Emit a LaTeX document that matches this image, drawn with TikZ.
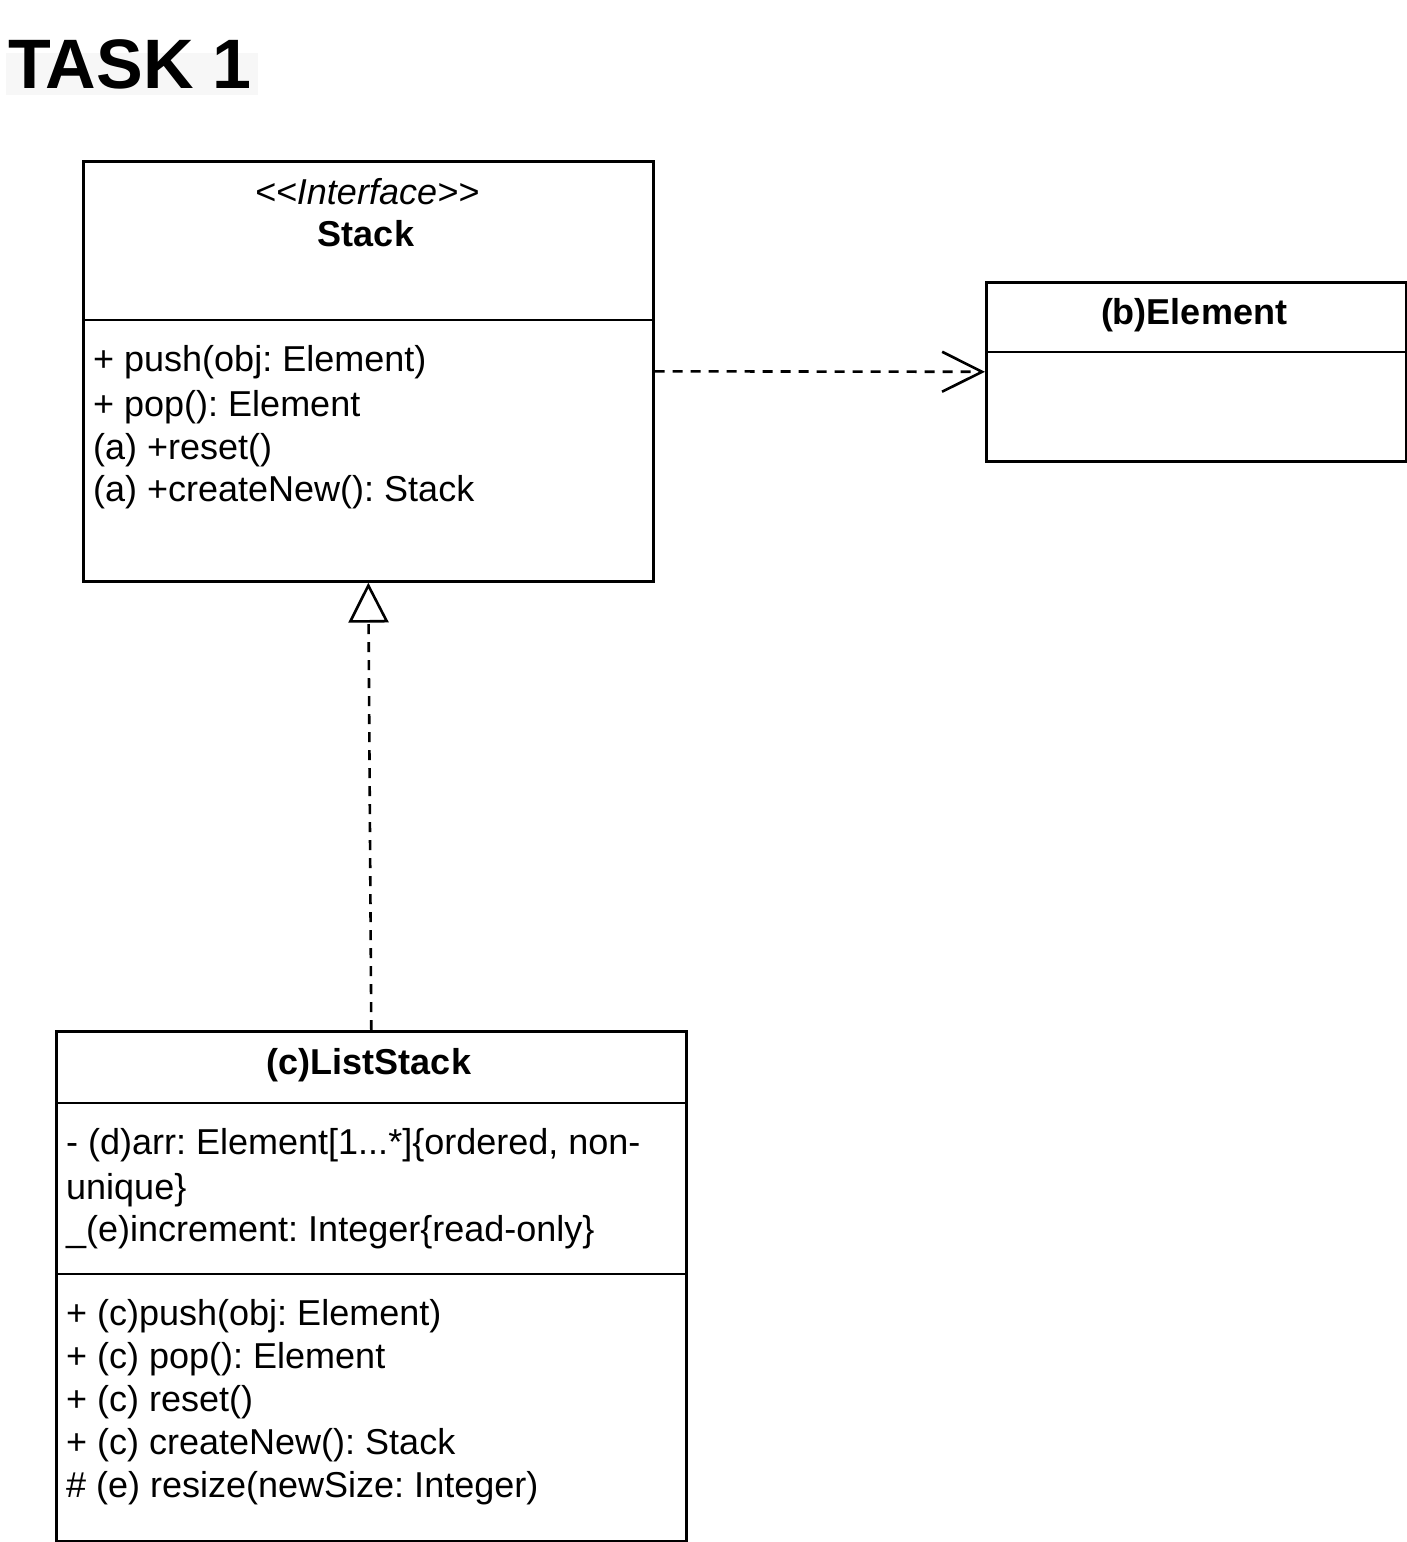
\documentclass[tikz,border=0pt]{standalone}
\usepackage{fontspec}
\setmainfont{Liberation Sans}
\usetikzlibrary{arrows.meta}
\frenchspacing
\tikzset{
  umlbox/.style={draw, line width=2.6pt, inner sep=0pt, anchor=north west},
  divider/.style={line width=2.6pt},
  txt/.style={inner sep=0pt, anchor=base west, font=\fontsize{36}{43}\selectfont},
  ctxt/.style={inner sep=0pt, anchor=base, font=\fontsize{36}{43}\selectfont},
  conn/.style={line width=2.6pt, dash pattern=on 10pt off 8pt},
}
\begin{document}
\begin{tikzpicture}[x=1pt,y=-1pt]
\useasboundingbox (0,0) rectangle (1407,1542);
% title
\fill[black!3] (6,53) rectangle (258,95);
\node[inner sep=0pt, anchor=base west, font=\fontsize{70}{80}\selectfont\bfseries] (title) at (8,88) {TASK 1};

% Stack interface
\node[umlbox, minimum width=570pt, minimum height=420pt] (stack) at (82,160) {};
\draw[divider] (82,320) -- (652,320);
\node[ctxt, font=\fontsize{36}{43}\selectfont\itshape] (stereo) at (367,204) {<{}<Interface>{}>};
\node[ctxt, font=\fontsize{36}{43}\selectfont\bfseries] (stackname) at (366,246) {Stack};
\node[txt] (sm1) at (93,371) {+ push(obj: Element)};
\node[txt] (sm2) at (93,416) {+ pop(): Element};
\node[txt] (sm3) at (93,459) {(a) +reset()};
\node[txt] (sm4) at (93,501) {(a) +createNew(): Stack};

% Element
\node[umlbox, minimum width=420pt, minimum height=179pt] (element) at (985,281) {};
\draw[divider] (985,352) -- (1405,352);
\node[ctxt, font=\fontsize{36}{43}\selectfont\bfseries] (elname) at (1194,324) {(b)Element};

% ListStack
\node[umlbox, minimum width=630pt, minimum height=510pt] (liststack) at (55,1030) {};
\draw[divider] (55,1103) -- (685,1103);
\draw[divider] (55,1274) -- (685,1274);
\node[ctxt, font=\fontsize{36}{43}\selectfont\bfseries] (lsname) at (369,1074) {(c)ListStack};
\node[txt] (la1) at (66,1154) {- (d)arr: Element[1...*]\{ordered, non-};
\node[txt] (la2) at (66,1199) {unique\}};
\node[txt] (la3) at (66,1241) {\_(e)increment: Integer\{read-only\}};
\node[txt] (lm1) at (66,1325) {+ (c)push(obj: Element)};
\node[txt] (lm2) at (66,1368) {+ (c) pop(): Element};
\node[txt] (lm3) at (66,1411) {+ (c) reset()};
\node[txt] (lm4) at (66,1454) {+ (c) createNew(): Stack};
\node[txt] (lm5) at (66,1497) {\# (e) resize(newSize: Integer)};

% connectors
\draw[conn, -{Straight Barb[length=40pt, width=40pt, line width=2.6pt]}] (stack.east) -- (element.west);
\draw[conn, -{Triangle[open, length=40pt, width=40pt, line width=2.6pt, fill=white]}] (liststack.north) -- (stack.south);
\end{tikzpicture}
\end{document}
